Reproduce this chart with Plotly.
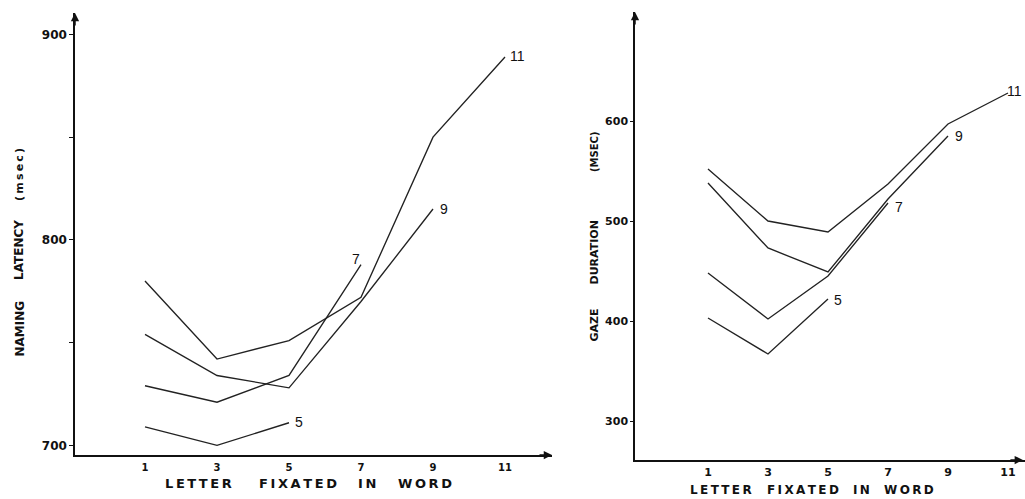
import plotly.graph_objects as go

# ---------------- data ----------------
letter_ticks = [1, 3, 5, 7, 9, 11]

# Left panel: naming latency (msec) by letter fixated, per word length
pos_5 = [1, 3, 5]
lat_5 = [709, 700, 711]
pos_7 = [1, 3, 5, 7]
lat_7 = [729, 721, 734, 788]
pos_9 = [1, 3, 5, 7, 9]
lat_9 = [754, 734, 728, 770, 815]
pos_11 = [1, 3, 5, 7, 9, 11]
lat_11 = [780, 742, 751, 772, 850, 889]

# Right panel: gaze duration (msec)
gaze_5 = [403, 367, 422]
gaze_7 = [448, 402, 445, 518]
gaze_9 = [538, 473, 449, 522, 585]
gaze_11 = [552, 500, 489, 537, 597, 628]

word_lengths = ["5", "7", "9", "11"]

lat_ticks = [700, 750, 800, 850, 900]
lat_ticktext = ["700", "", "800", "", "900"]
gaze_ticks = [300, 400, 500, 600]
gaze_ticktext = ["300", "400", "500", "600"]

# ---------------- figure ----------------
W, H = 1025, 499
LINE = dict(color="#222", width=1.35)
BOLD = "DejaVu Sans"
REG = "Liberation Sans, Arial, sans-serif"
INK = "#111"


def fx(p):
    return p / W


def fy(p):
    return 1 - p / H


def spaced(word, ls="\u2009"):
    return ls.join(word)


fig = go.Figure()
left = [(pos_5, lat_5), (pos_7, lat_7), (pos_9, lat_9), (pos_11, lat_11)]
right = [(pos_5, gaze_5), (pos_7, gaze_7), (pos_9, gaze_9), (pos_11, gaze_11)]
for (xs, ys), name in zip(left, word_lengths):
    fig.add_trace(go.Scatter(x=xs, y=ys, mode="lines", line=LINE, name=name,
                             showlegend=False, xaxis="x", yaxis="y"))
for (xs, ys), name in zip(right, word_lengths):
    fig.add_trace(go.Scatter(x=xs, y=ys, mode="lines", line=LINE, name=name,
                             showlegend=False, xaxis="x2", yaxis="y2"))

# axis ranges (pixel geometry of the reference)
xl = [1 - 70 / 36, 1 + 407 / 36]
yl = [695.3, 910.4]
xr = [1 - 73 / 30, 1 + 317 / 30]
yr = [261, 709]

axis_common = dict(showgrid=False, zeroline=False, showline=True,
                   linecolor=INK, linewidth=1.5, mirror=False)

fig.update_layout(
    width=W, height=H, autosize=False,
    margin=dict(l=0, r=0, t=0, b=0),
    paper_bgcolor="white", plot_bgcolor="white",
    xaxis=dict(domain=[fx(75), fx(552)], range=xl, anchor="y",
               tickvals=letter_ticks, ticks="",
               tickfont=dict(family=BOLD, size=10, color=INK, weight="bold"),
               ticklabelstandoff=2, **axis_common),
    yaxis=dict(domain=[fy(455), fy(13)], range=yl, anchor="x",
               tickvals=lat_ticks, ticktext=lat_ticktext, ticks="outside",
               ticklen=4, tickwidth=1, tickcolor=INK,
               tickfont=dict(family=BOLD, size=12, color=INK, weight="bold"),
               ticklabelstandoff=0, **axis_common),
    xaxis2=dict(domain=[fx(635), 1.0], range=xr, anchor="y2",
                tickvals=letter_ticks, ticks="",
                tickfont=dict(family=BOLD, size=11, color=INK, weight="bold"),
                ticklabelstandoff=1, **axis_common),
    yaxis2=dict(domain=[fy(460), fy(12)], range=yr, anchor="x2",
                tickvals=gaze_ticks, ticktext=gaze_ticktext, ticks="outside",
                ticklen=3, tickwidth=1, tickcolor=INK,
                tickfont=dict(family=BOLD, size=11, color=INK, weight="bold"),
                ticklabelstandoff=0, **axis_common),
)

ann = []
# axis arrows
arrow = dict(text="", showarrow=True, arrowhead=2, arrowsize=1.1,
             arrowwidth=1.5, arrowcolor=INK)
ann.append(dict(x=xl[0], y=yl[1], xref="x", yref="y", ax=0, ay=14, **arrow))
ann.append(dict(x=xl[1], y=yl[0], xref="x", yref="y", ax=-14, ay=0, **arrow))
ann.append(dict(x=xr[0], y=yr[1], xref="x2", yref="y2", ax=0, ay=14, **arrow))
ann.append(dict(x=xr[1] - 0.07, y=yr[0], xref="x2", yref="y2", ax=-14, ay=0, **arrow))

# line end labels
lab_font = dict(family=REG, size=14, color=INK)
for x, y, t in [(11.08, 889.5, "11"), (9.14, 815.2, "9"), (6.7, 790.5, "7"), (5.11, 711.4, "5")]:
    ann.append(dict(x=x, y=y, xref="x", yref="y", text=t, showarrow=False,
                    xanchor="left", yanchor="middle", font=lab_font))
for x, y, t, xa in [(11.53, 630, "11", "right"), (9.17, 585, "9", "left"),
                    (7.17, 514, "7", "left"), (5.13, 421, "5", "left")]:
    ann.append(dict(x=x, y=y, xref="x2", yref="y2", text=t, showarrow=False,
                    xanchor=xa, yanchor="middle", font=lab_font))

# axis titles, word by word (wide letter spacing as in the original)
x_title_words = ["LETTER", "FIXATED", "IN", "WORD"]
left_x_centers = [198, 297.5, 367, 424.5]
right_x_centers = [721, 802.5, 861.5, 908.5]
for w, c in zip(x_title_words, left_x_centers):
    ann.append(dict(x=fx(c), y=fy(483), xref="paper", yref="paper",
                    text=spaced(w), showarrow=False, xanchor="center", yanchor="middle",
                    font=dict(family=BOLD, size=13, color=INK, weight="bold")))
for w, c in zip(x_title_words, right_x_centers):
    ann.append(dict(x=fx(c), y=fy(490), xref="paper", yref="paper",
                    text=spaced(w), showarrow=False, xanchor="center", yanchor="middle",
                    font=dict(family=BOLD, size=12, color=INK, weight="bold")))

left_y_words = [("NAMING", 328.5, 12, ""), ("LATENCY", 250, 12, ""), ("(msec)", 175, 11, "\u2009")]
for w, c, s, ls in left_y_words:
    ann.append(dict(x=fx(19), y=fy(c), xref="paper", yref="paper",
                    text=ls.join(w) if ls else w, showarrow=False, textangle=-90,
                    xanchor="center", yanchor="middle",
                    font=dict(family=BOLD, size=s, color=INK, weight="bold")))
right_y_words = [("GAZE", 325.5, 11), ("DURATION", 252.5, 11), ("(MSEC)", 152, 10)]
for w, c, s in right_y_words:
    ann.append(dict(x=fx(594), y=fy(c), xref="paper", yref="paper",
                    text=w, showarrow=False, textangle=-90,
                    xanchor="center", yanchor="middle",
                    font=dict(family=BOLD, size=s, color=INK, weight="bold")))

fig.update_layout(annotations=ann)
fig.write_html("out.html", config={"displayModeBar": False},
               post_script="document.body.style.margin='0';")
